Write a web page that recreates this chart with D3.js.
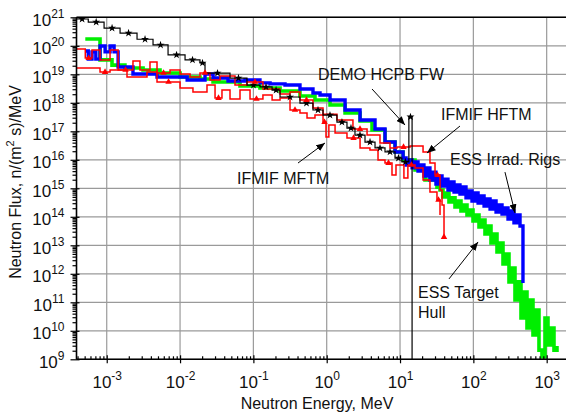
<!DOCTYPE html>
<html><head><meta charset="utf-8">
<script src="https://cdn.jsdelivr.net/npm/d3@7"></script>
<style>body{margin:0;background:#fff}svg{display:block}</style>
</head><body>
<svg id="c" width="566" height="412"></svg>
<script>
// ---- data (energy in MeV = step start, flux in n/(m^2 s)/MeV) ----
const demoEnergy = [3.8e-4,5.6e-4,9.2e-4,1.52e-3,2.59e-3,4.28e-3,6.86e-3,1.17e-2,1.87e-2,2.19e-2,4.8e-2,8.18e-2,0.123,0.18,0.231,0.432,0.65,0.891,1.38,1.89,2.43,3.33,4.56,6.24,8.55,10.6,13.2,14.6];
const demoFlux   = [8.7e20,6.8e20,4.2e20,2.8e20,1.7e20,1.07e20,4.8e19,3.2e19,2.5e19,1.1e19,7.4e18,4.2e18,3.6e18,2.8e18,1.6e18,9.8e17,5.6e17,3.7e17,2.1e17,1.3e17,7.4e16,4.2e16,2.6e16,1.9e16,1.15e16,8.4e15,3.2e17,1e7];

const rigsEnergy = [5.1e-4,5.6e-4,6.3e-4,7.1e-4,8.1e-4,9.5e-4,1.11e-3,1.26e-3,1.43e-3,2.28e-3,4.85e-3,1.25e-2,2.19e-2,2.82e-2,4.51e-2,7.69e-2,0.123,0.169,0.27,0.432,0.65,0.811,1.11,1.78,2.85,4.56,6.24,8.55,
  11.0,12.1,13.3,14.6,16.0,17.6,19.3,21.2,23.3,25.6,28.2,30.9,34.0,37.4,41.1,45.1,49.6,54.5,59.8,65.7,72.2,79.4,87.2,95.8,105,116,127,140,154,169,185,204,224,246,270,297,326,358,394,433,475];
const rigsFlux   = [6.6e19,3.4e19,6.1e19,3.4e19,9.8e19,6.1e19,9.8e19,6.1e19,1.8e19,1.03e19,8.0e18,6.3e18,1.03e19,7.4e18,5.8e18,6.3e18,5.0e18,4.6e18,4.2e18,3.05e18,2.2e18,1.88e18,1.25e18,5.6e17,2.5e17,1.2e17,4.2e16,1.88e16,
  1.16e16,6.6e15,9.8e15,5.2e15,8.4e15,4.05e15,6.6e15,2.7e15,5.2e15,1.95e15,3.7e15,1.42e15,2.7e15,1.2e15,2.1e15,8.7e14,1.66e15,7.4e14,1.31e15,6.3e14,1.11e15,4.6e14,8.0e14,3.6e14,6.8e14,3.05e14,5.4e14,2.4e14,4.2e14,1.88e14,3.6e14,1.47e14,2.6e14,1.25e14,2.04e14,8.4e13,1.6e14,6.1e13,1.16e14,4.75e13,4.75e11];

const hullEnergy = [5.1e-4,8.1e-4,1.18e-3,1.77e-3,3.13e-3,5.33e-3,1e-2,1.87e-2,2.82e-2,6.57e-2,0.123,0.231,0.432,0.692,1.11,1.78,2.85,4.15,6.24,8.55,11,16,21.9,31.9,
  35.1,38.5,42.4,46.5,51.1,56.2,61.7,67.8,74.5,81.9,90.0,98.9,108.6,119.4,131.2,144.1,158.3,174.0,191.2,210.1,230.8,253.7,278.7,306.2,336.5,369.7,406.3,446.4,490.5,538.9,592.1,650.6,714.8,785.4,863.0,948.2,1042,1145,1258,1382];
const hullFlux   = [1.73e20,3.2e19,2.1e19,1.66e19,1.42e19,1.11e19,8.0e18,6.8e18,5.4e18,3.9e18,3.3e18,2.6e18,1.73e18,1.25e18,8.4e17,4.4e17,2.3e17,1.11e17,4.2e16,1.88e16,9.8e15,4.4e15,1.95e15,1.1e15,
  8.7e14,4.95e14,6.8e14,3.3e14,4.6e14,2.2e14,3.6e14,1.6e14,2.6e14,1.16e14,1.73e14,7.1e13,1.16e14,4.4e13,7.7e13,2.5e13,4.75e13,1.2e13,2.5e13,5.8e12,1.2e13,2.2e12,4.95e12,5.2e11,1.6e12,1.2e11,5.2e11,2.8e10,2.3e11,1.25e10,1.2e11,7.1e9,5.4e10,2.1e9,1.2e9,2.8e10,3.2e9,1.25e10,2.1e9,2.9e9];

const hftmEnergy = [3.8e-4,5.1e-4,6.3e-4,8.1e-4,1.11e-3,1.43e-3,2.28e-3,2.84e-3,3.89e-3,4.85e-3,7.3e-3,1.0e-2,1.37e-2,1.87e-2,2.56e-2,3.51e-2,5.61e-2,8.18e-2,0.135,0.231,0.316,0.432,0.65,0.891,1.38,2.28,3.55,5.33,7.3,9.1,13.7,20.6,25.6,30.0,35.1,37.4,39.8];
const hftmFlux   = [7.7e19,3.7e19,7.1e19,3.2e19,7.1e19,1.42e19,2.9e19,1.42e19,2.7e19,1.11e19,1.42e19,1.03e19,8.0e18,1.11e19,6.3e18,8.7e18,4.2e18,5.4e18,3.05e18,2.04e18,2.4e18,1.25e18,6.6e17,4.0e17,2.5e17,1.2e17,7.4e16,3.9e16,2.6e16,2.8e16,3.05e16,1.88e16,7.7e15,2.9e15,8.7e14,2.6e14,1.95e13];

const mftmEnergy = [3.8e-4,8.1e-4,1.11e-3,1.89e-3,3.54e-3,4.85e-3,1.0e-2,1.5e-2,2.33e-2,3.0e-2,3.73e-2,4.8e-2,6.57e-2,9.0e-2,0.135,0.18,0.231,0.316,0.432,0.539,0.692,0.891,0.978,1.07,1.30,1.89,2.85,3.89,5.01,6.24,7.77,8.81,11.3,12.8,16.0,20.6,25.6,31.9,35.1];
const mftmFlux   = [1.66e19,1.2e19,1.42e19,8.0e18,1.2e19,5.4e18,3.3e18,2.4e18,4.2e18,1.47e18,2.8e18,1.36e18,2.8e18,1.36e18,1.88e18,1.25e18,1.47e18,5.6e17,4.4e17,2.9e17,3.7e17,2.1e17,6.3e16,1.66e17,8.7e16,5.8e16,2.6e16,2.2e16,9.8e15,7.7e15,2.9e15,6.6e15,2.3e15,6.6e15,5.2e15,1.95e15,7.4e14,3.9e14,1.16e14];

const xTickExp = [-3,-2,-1,0,1,2,3];
const yTickExp = [9,10,11,12,13,14,15,16,17,18,19,20,21];

// ---- layout ----
const L = 76.5, T = 17.3, R = 570, B = 359.3;
const svg = d3.select("#c");
const FONT = "'Liberation Sans', Arial, Helvetica, sans-serif";
const x = d3.scaleLog().domain([3.87e-4, 2.08e3]).range([L, R]);
const y = d3.scaleLog().domain([1e9, 1e21]).range([B, T]);

// grid
const g = svg.append("g");
g.selectAll(".gx").data(xTickExp).join("line")
  .attr("x1", d => x(Math.pow(10,d))).attr("x2", d => x(Math.pow(10,d)))
  .attr("y1", T).attr("y2", B).attr("stroke", "#9a9a9a").attr("stroke-width", 1.2);
g.selectAll(".gy").data(yTickExp).join("line")
  .attr("x1", L).attr("x2", R)
  .attr("y1", d => y(Math.pow(10,d))).attr("y2", d => y(Math.pow(10,d)))
  .attr("stroke", "#9a9a9a").attr("stroke-width", 1.2);

// clip
svg.append("clipPath").attr("id","clip").append("rect")
  .attr("x", L).attr("y", T).attr("width", R - L).attr("height", B - T);
const plot = svg.append("g").attr("clip-path","url(#clip)");

const line = d3.line().curve(d3.curveStepAfter)
  .x(d => x(d[0])).y(d => y(Math.max(d[1], 1e5)));
const zip = (a, b) => a.map((v, i) => [v, b[i]]);

function series(E, F, color, w) {
  plot.append("path").datum(zip(E, F)).attr("d", line)
    .attr("fill","none").attr("stroke", color).attr("stroke-width", w)
    .attr("stroke-linejoin","miter");
}
series(hullEnergy, hullFlux, "#00ee00", 3.6);
series(rigsEnergy, rigsFlux, "#0000ff", 3.4);
series(mftmEnergy, mftmFlux, "#ff0000", 1.5);
series(hftmEnergy, hftmFlux, "#ff0000", 1.5);
series(demoEnergy, demoFlux, "#000000", 1.2);

// markers
const star = d3.symbol().type(d3.symbolStar).size(20);
const demoMarks = demoEnergy.slice(0, -1).map((e, i) => [Math.sqrt(e * demoEnergy[i+1]), demoFlux[i]]);
plot.selectAll(".st").data(demoMarks).join("path").attr("d", star)
  .attr("transform", d => `translate(${x(d[0])},${y(d[1])})`).attr("fill","#000");
const tri = d3.symbol().type(d3.symbolTriangle).size(18);
function triMarks(E, F, step) {
  const pts = [];
  for (let i = 1; i < E.length - 1; i += step) pts.push([Math.sqrt(E[i]*E[i+1]), F[i]]);
  plot.selectAll(null).data(pts).join("path").attr("d", tri)
    .attr("transform", d => `translate(${x(d[0])},${y(d[1])})`).attr("fill","#ff0000");
}
triMarks(hftmEnergy, hftmFlux, 4);
triMarks(mftmEnergy, mftmFlux, 4);
plot.append("path").attr("d", tri)
  .attr("transform", `translate(${x(hftmEnergy[hftmEnergy.length-1])},${y(hftmFlux[hftmFlux.length-1])})`)
  .attr("fill","#ff0000");

// axes
const xMinor = [], yMinor = [];
for (let p = -4; p <= 3; p++) for (let k = 2; k <= 9; k++) { const v = k * Math.pow(10,p); if (v > 3.87e-4 && v < 2.08e3) xMinor.push(v); }
for (let p = 9; p < 21; p++) for (let k = 2; k <= 9; k++) yMinor.push(k * Math.pow(10,p));

const axB = svg.append("g").attr("transform", `translate(0,${B})`);
axB.call(d3.axisBottom(x).tickValues(xMinor).tickSize(-3).tickFormat(""));
const axBM = svg.append("g").attr("transform", `translate(0,${B})`)
  .call(d3.axisBottom(x).tickValues(xTickExp.map(d => Math.pow(10,d))).tickSize(4).tickPadding(10).tickFormat(""));
axBM.selectAll(".tick line").attr("y1", -4);
const axL = svg.append("g").attr("transform", `translate(${L},0)`);
axL.call(d3.axisLeft(y).tickValues(yMinor).tickSize(4).tickFormat(""));
const axLM = svg.append("g").attr("transform", `translate(${L},0)`)
  .call(d3.axisLeft(y).tickValues(yTickExp.map(d => Math.pow(10,d))).tickSize(6).tickFormat(""));
axLM.selectAll(".tick line").attr("x1", 3);
[axB, axBM, axL, axLM].forEach(a => {
  a.select(".domain").remove();
  a.selectAll(".tick line").attr("stroke","#000").attr("stroke-width",1.2);
});
// frame lines
svg.append("line").attr("x1",L).attr("x2",R).attr("y1",B).attr("y2",B).attr("stroke","#000").attr("stroke-width",1.6);
svg.append("line").attr("x1",L).attr("x2",R).attr("y1",T).attr("y2",T).attr("stroke","#000").attr("stroke-width",1.6);
svg.append("line").attr("x1",L).attr("x2",L).attr("y1",T).attr("y2",B).attr("stroke","#000").attr("stroke-width",1.6);

// tick labels
axBM.selectAll(".tick").each(function(d) {
  const t = d3.select(this).append("text").attr("y", 29).attr("text-anchor","middle")
    .attr("fill","#111").style("font-family", FONT).style("font-size","17px");
  t.append("tspan").text("10");
  t.append("tspan").attr("dy",-8).style("font-size","12px").text(String(Math.round(Math.log10(d))));
});
axLM.selectAll(".tick").each(function(d) {
  const t = d3.select(this).append("text").attr("x", -12).attr("y", 8).attr("text-anchor","end")
    .attr("fill","#111").style("font-family", FONT).style("font-size","17px");
  t.append("tspan").text("10");
  t.append("tspan").attr("dy",-8).style("font-size","12px").text(String(Math.round(Math.log10(d))));
});

// axis titles
svg.append("text").attr("x", 317).attr("y", 409).attr("text-anchor","middle")
  .attr("fill","#111").style("font-family", FONT).style("font-size","16px").text("Neutron Energy, MeV");
const yt = svg.append("text").attr("transform","translate(21,182) rotate(-90)").attr("text-anchor","middle")
  .attr("fill","#111").style("font-family", FONT).style("font-size","16px");
yt.append("tspan").text("Neutron Flux, n/(m");
yt.append("tspan").attr("dy",-7).style("font-size","11px").text("2");
yt.append("tspan").attr("dy",7).text(" s)/MeV");

// annotations
const defs = svg.append("defs");
defs.append("marker").attr("id","ah").attr("viewBox","0 0 10 8").attr("refX",10).attr("refY",4)
  .attr("markerWidth",9).attr("markerHeight",7).attr("markerUnits","userSpaceOnUse").attr("orient","auto")
  .append("path").attr("d","M0,0 L10,4 L0,8 Z").attr("fill","#000");
const notes = [
  {text:["DEMO HCPB FW"], tx:318, ty:80, from:[4.15,3.05e18], to:[11.7,1.66e17]},
  {text:["IFMIF HFTM"], tx:441, ty:120, from:[65.7,1.53e17], to:[23.3,1.73e16]},
  {text:["ESS Irrad. Rigs"], tx:450, ty:165, from:[270,3.7e15], to:[370,1.36e14]},
  {text:["IFMIF MFTM"], tx:237, ty:184, from:[0.406,7.7e15], to:[0.948,3.9e16]},
  {text:["ESS Target","Hull"], tx:418, ty:298, from:[46.5,6.6e11], to:[116,1.31e13]}
];
notes.forEach(n => {
  svg.append("line").attr("x1", x(n.from[0])).attr("y1", y(n.from[1]))
    .attr("x2", x(n.to[0])).attr("y2", y(n.to[1]))
    .attr("stroke","#000").attr("stroke-width",1).attr("marker-end","url(#ah)");
  n.text.forEach((s, i) => svg.append("text").attr("x", n.tx).attr("y", n.ty + i * 20)
    .attr("fill","#111").style("font-family", FONT).style("font-size","16px").text(s));
});
</script>
</body></html>
